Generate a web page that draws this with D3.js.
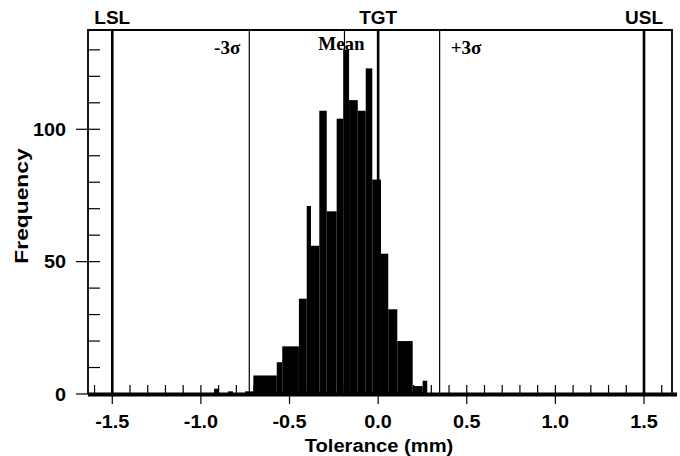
<!DOCTYPE html>
<html>
<head>
<meta charset="utf-8">
<script src="https://cdn.jsdelivr.net/npm/d3@7/dist/d3.min.js"></script>
<style>
  body { margin: 0; background: #fff; }
  svg { display: block; }
  .sans { font-family: "Liberation Sans", Arial, sans-serif; font-weight: bold; }
  .serif { font-family: "Liberation Serif", "Times New Roman", serif; font-weight: bold; }
</style>
</head>
<body>
<div id="chart"></div>
<script>
// Histogram bins (mm) and frequencies
var binStart = [-0.926, -0.847, -0.751, -0.704, -0.572, -0.541, -0.447, -0.403, -0.379, -0.332,
                -0.290, -0.234, -0.197, -0.164, -0.115, -0.070, -0.033, 0.016, 0.057, 0.108, 0.195, 0.251];
var binEnd   = [-0.898, -0.819, -0.704, -0.572, -0.541, -0.447, -0.403, -0.379, -0.332, -0.290,
                -0.234, -0.197, -0.164, -0.115, -0.070, -0.033, 0.016, 0.057, 0.108, 0.195, 0.251, 0.277];
var counts   = [2, 1, 1, 7, 12, 18, 36, 71, 56, 107,
                69, 104, 130, 111, 107, 123, 81, 53, 32, 20, 3, 5];

// Spec limits and process statistics
var limitNames  = ["LSL", "TGT", "USL"];
var limitValues = [-1.5, 0.0, 1.5];
var meanValue = -0.19;
var sigmaValue = 0.179;

// Axis ticks
var xMajorTicks = [-1.5, -1.0, -0.5, 0.0, 0.5, 1.0, 1.5];
var xTickLabels = ["-1.5", "-1.0", "-0.5", "0.0", "0.5", "1.0", "1.5"];
var xMinorTicks = d3.range(-16, 17).map(function (d) { return d / 10; });
var yMajorTicks = [0, 50, 100];
var yMinorTicks = [10, 20, 30, 40, 60, 70, 80, 90, 110, 120, 130];

var width = 680, height = 456;
var plotLeft = 88, plotRight = 672, plotTop = 30, plotBottom = 394;

var x = d3.scaleLinear().domain([-1.637, 1.658]).range([plotLeft, plotRight]);
var y = d3.scaleLinear().domain([0, 137.5]).range([plotBottom, plotTop]);

// widen bold labels a little, the original font runs wider than Arial
function stretch(sel, factor) {
    sel.each(function () {
        var len = this.getComputedTextLength();
        d3.select(this)
            .attr("textLength", len * factor)
            .attr("lengthAdjust", "spacingAndGlyphs");
    });
}

var svg = d3.select("#chart")
    .append("svg")
    .attr("width", width)
    .attr("height", height);

// Bars
var bars = binStart.map(function (s, i) { return { x0: s, x1: binEnd[i], n: counts[i] }; });
svg.append("g")
    .selectAll("rect")
    .data(bars)
    .enter()
    .append("rect")
    .attr("x", function (d) { return x(d.x0); })
    .attr("width", function (d) { return x(d.x1) - x(d.x0); })
    .attr("y", function (d) { return y(d.n); })
    .attr("height", function (d) { return y(0) - y(d.n); })
    .attr("fill", "#000");

// Frame: left, top, right
svg.append("path")
    .attr("d", "M" + plotLeft + "," + plotBottom + "V" + plotTop + "H" + plotRight + "V" + plotBottom)
    .attr("fill", "none")
    .attr("stroke", "#000")
    .attr("stroke-width", 1.8);

// Sigma and mean lines (thin)
var thinLines = [meanValue - 3 * sigmaValue, meanValue, meanValue + 3 * sigmaValue];
svg.append("g")
    .selectAll("line")
    .data(thinLines)
    .enter()
    .append("line")
    .attr("x1", function (d) { return x(d); })
    .attr("x2", function (d) { return x(d); })
    .attr("y1", plotTop)
    .attr("y2", plotBottom)
    .attr("stroke", "#000")
    .attr("stroke-width", 1.2);

// Spec limit lines (thick)
svg.append("g")
    .selectAll("line")
    .data(limitValues)
    .enter()
    .append("line")
    .attr("x1", function (d) { return x(d); })
    .attr("x2", function (d) { return x(d); })
    .attr("y1", plotTop)
    .attr("y2", plotBottom)
    .attr("stroke", "#000")
    .attr("stroke-width", 2.6);

// X ticks: minor up inside, major also down outside
svg.append("g")
    .selectAll("line")
    .data(xMinorTicks)
    .enter()
    .append("line")
    .attr("x1", function (d) { return x(d); })
    .attr("x2", function (d) { return x(d); })
    .attr("y1", plotBottom)
    .attr("y2", plotBottom - 9)
    .attr("stroke", "#000")
    .attr("stroke-width", 1.2);
svg.append("g")
    .selectAll("line")
    .data(xMajorTicks)
    .enter()
    .append("line")
    .attr("x1", function (d) { return x(d); })
    .attr("x2", function (d) { return x(d); })
    .attr("y1", plotBottom)
    .attr("y2", plotBottom + 10)
    .attr("stroke", "#000")
    .attr("stroke-width", 1.2);

// Thick baseline
svg.append("line")
    .attr("x1", plotLeft)
    .attr("x2", plotRight + 5)
    .attr("y1", plotBottom + 0.5)
    .attr("y2", plotBottom + 0.5)
    .attr("stroke", "#000")
    .attr("stroke-width", 4);

// Y ticks: minor inside, major crossing the frame
svg.append("g")
    .selectAll("line")
    .data(yMinorTicks)
    .enter()
    .append("line")
    .attr("x1", plotLeft)
    .attr("x2", plotLeft + 12)
    .attr("y1", function (d) { return y(d); })
    .attr("y2", function (d) { return y(d); })
    .attr("stroke", "#000")
    .attr("stroke-width", 1.2);
svg.append("g")
    .selectAll("line")
    .data(yMajorTicks)
    .enter()
    .append("line")
    .attr("x1", plotLeft - 12)
    .attr("x2", function (d) { return d > 0 ? plotLeft + 12 : plotLeft; })
    .attr("y1", function (d) { return y(d); })
    .attr("y2", function (d) { return y(d); })
    .attr("stroke", "#000")
    .attr("stroke-width", 1.2);

// Tick labels
var xLabelSel = svg.append("g")
    .selectAll("text")
    .data(xMajorTicks)
    .enter()
    .append("text")
    .classed("sans", true)
    .attr("x", function (d) { return x(d); })
    .attr("y", 428)
    .attr("text-anchor", "middle")
    .attr("font-size", 18)
    .text(function (d, i) { return xTickLabels[i]; });
stretch(xLabelSel, 1.1);

var yLabelSel = svg.append("g")
    .selectAll("text")
    .data(yMajorTicks)
    .enter()
    .append("text")
    .classed("sans", true)
    .attr("x", 66)
    .attr("y", function (d) { return y(d) + 6.5; })
    .attr("text-anchor", "end")
    .attr("font-size", 18)
    .text(function (d) { return d; });
stretch(yLabelSel, 1.1);

// Axis titles
var xTitle = svg.append("text")
    .classed("sans", true)
    .attr("x", 379)
    .attr("y", 452)
    .attr("text-anchor", "middle")
    .attr("font-size", 18)
    .text("Tolerance (mm)");
stretch(xTitle, 1.12);

var yTitle = svg.append("text")
    .classed("sans", true)
    .attr("transform", "translate(28,206) rotate(-90)")
    .attr("text-anchor", "middle")
    .attr("font-size", 19)
    .text("Frequency");
stretch(yTitle, 1.2);

// Spec limit labels above the frame
svg.append("g")
    .selectAll("text")
    .data(limitValues)
    .enter()
    .append("text")
    .classed("sans", true)
    .attr("x", function (d) { return x(d); })
    .attr("y", 24)
    .attr("text-anchor", "middle")
    .attr("font-size", 19)
    .text(function (d, i) { return limitNames[i]; });

// Sigma / mean labels
svg.append("text")
    .classed("serif", true)
    .attr("x", x(meanValue - 3 * sigmaValue) - 9)
    .attr("y", 54)
    .attr("text-anchor", "end")
    .attr("font-size", 19)
    .text("-3σ");
svg.append("text")
    .classed("serif", true)
    .attr("x", x(meanValue + 3 * sigmaValue) + 11)
    .attr("y", 54)
    .attr("text-anchor", "start")
    .attr("font-size", 19)
    .text("+3σ");
svg.append("text")
    .classed("serif", true)
    .attr("x", x(meanValue) - 3)
    .attr("y", 50)
    .attr("text-anchor", "middle")
    .attr("font-size", 19)
    .text("Mean");
</script>
</body>
</html>
